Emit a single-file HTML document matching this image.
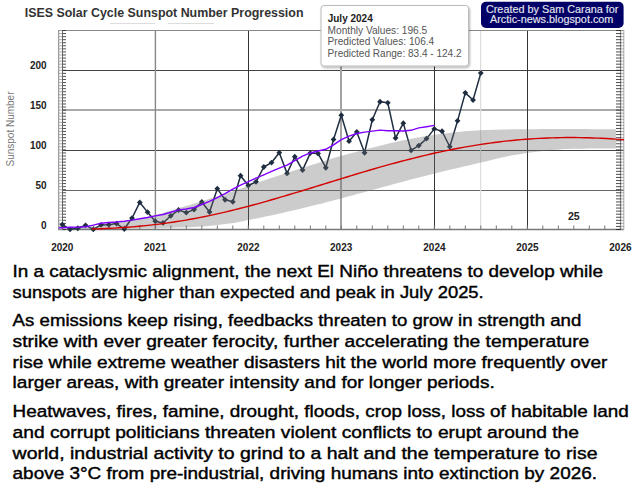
<!DOCTYPE html>
<html><head><meta charset="utf-8"><style>
html,body{margin:0;padding:0;background:#fff;width:640px;height:490px;overflow:hidden}
svg{display:block}
text{font-family:"Liberation Sans",sans-serif}
.body text{font-size:17.4px;fill:#000;stroke:#000;stroke-width:0.42px}
.ax{font-size:10px;font-weight:bold;fill:#222}
</style></head><body>
<svg width="640" height="490" viewBox="0 0 640 490">
<rect width="640" height="490" fill="#fff"/>
<!-- title -->
<text x="24.7" y="17.2" font-size="12.6" font-weight="bold" fill="#333" textLength="278.8" lengthAdjust="spacingAndGlyphs">ISES Solar Cycle Sunspot Number Progression</text>
<line x1="110" y1="23.5" x2="155" y2="23.5" stroke="#ddd" stroke-width="1"/>
<line x1="168" y1="23.5" x2="214" y2="23.5" stroke="#ddd" stroke-width="1"/>
<!-- y axis title -->
<text transform="translate(14.2,129) rotate(-90)" text-anchor="middle" font-size="10.5" fill="#777" textLength="75" lengthAdjust="spacingAndGlyphs">Sunspot Number</text>
<line x1="62" y1="70.5" x2="624" y2="70.5" stroke="#444" stroke-width="1"/>
<line x1="62" y1="110.0" x2="624" y2="110.0" stroke="#aaa" stroke-width="2"/>
<line x1="62" y1="150.5" x2="624" y2="150.5" stroke="#444" stroke-width="1"/>
<line x1="62" y1="190.5" x2="624" y2="190.5" stroke="#666" stroke-width="1"/>
<line x1="155.4" y1="30" x2="155.4" y2="230" stroke="#888" stroke-width="1.4"/>
<line x1="248.5" y1="30" x2="248.5" y2="230" stroke="#333" stroke-width="1"/>
<line x1="341.0" y1="30" x2="341.0" y2="230" stroke="#a4a4a4" stroke-width="2"/>
<line x1="434.5" y1="30" x2="434.5" y2="230" stroke="#333" stroke-width="1"/>
<line x1="527.5" y1="30" x2="527.5" y2="230" stroke="#333" stroke-width="1"/>
<!-- crosshair -->
<line x1="480.6" y1="30" x2="480.6" y2="229" stroke="#ddd" stroke-width="1.2"/>
<!-- axes frame -->
<line x1="58" y1="30.5" x2="624" y2="30.5" stroke="#888" stroke-width="1"/>
<line x1="58" y1="229.5" x2="624" y2="229.5" stroke="#777" stroke-width="1.3"/>
<line x1="58.7" y1="30" x2="58.7" y2="230" stroke="#888" stroke-width="1"/>
<line x1="62.5" y1="30" x2="62.5" y2="230" stroke="#666" stroke-width="1"/>
<line x1="620.7" y1="30" x2="620.7" y2="230" stroke="#777" stroke-width="1"/>
<line x1="623.8" y1="30" x2="623.8" y2="230" stroke="#aaa" stroke-width="1"/>
<path d="M62.5,30.50 H66 M616,30.50 H621 M62.5,33.56 H66 M616,33.56 H621 M62.5,36.62 H66 M616,36.62 H621 M62.5,39.68 H66 M616,39.68 H621 M62.5,42.75 H66 M616,42.75 H621 M62.5,45.81 H66 M616,45.81 H621 M62.5,48.87 H66 M616,48.87 H621 M62.5,51.93 H66 M616,51.93 H621 M62.5,54.99 H66 M616,54.99 H621 M62.5,58.05 H66 M616,58.05 H621 M62.5,61.12 H66 M616,61.12 H621 M62.5,64.18 H66 M616,64.18 H621 M62.5,67.24 H66 M616,67.24 H621 M62.5,70.30 H66 M616,70.30 H621 M62.5,73.36 H66 M616,73.36 H621 M62.5,76.42 H66 M616,76.42 H621 M62.5,79.48 H66 M616,79.48 H621 M62.5,82.55 H66 M616,82.55 H621 M62.5,85.61 H66 M616,85.61 H621 M62.5,88.67 H66 M616,88.67 H621 M62.5,91.73 H66 M616,91.73 H621 M62.5,94.79 H66 M616,94.79 H621 M62.5,97.85 H66 M616,97.85 H621 M62.5,100.92 H66 M616,100.92 H621 M62.5,103.98 H66 M616,103.98 H621 M62.5,107.04 H66 M616,107.04 H621 M62.5,110.10 H66 M616,110.10 H621 M62.5,113.16 H66 M616,113.16 H621 M62.5,116.22 H66 M616,116.22 H621 M62.5,119.28 H66 M616,119.28 H621 M62.5,122.35 H66 M616,122.35 H621 M62.5,125.41 H66 M616,125.41 H621 M62.5,128.47 H66 M616,128.47 H621 M62.5,131.53 H66 M616,131.53 H621 M62.5,134.59 H66 M616,134.59 H621 M62.5,137.65 H66 M616,137.65 H621 M62.5,140.72 H66 M616,140.72 H621 M62.5,143.78 H66 M616,143.78 H621 M62.5,146.84 H66 M616,146.84 H621 M62.5,149.90 H66 M616,149.90 H621 M62.5,152.96 H66 M616,152.96 H621 M62.5,156.02 H66 M616,156.02 H621 M62.5,159.08 H66 M616,159.08 H621 M62.5,162.15 H66 M616,162.15 H621 M62.5,165.21 H66 M616,165.21 H621 M62.5,168.27 H66 M616,168.27 H621 M62.5,171.33 H66 M616,171.33 H621 M62.5,174.39 H66 M616,174.39 H621 M62.5,177.45 H66 M616,177.45 H621 M62.5,180.52 H66 M616,180.52 H621 M62.5,183.58 H66 M616,183.58 H621 M62.5,186.64 H66 M616,186.64 H621 M62.5,189.70 H66 M616,189.70 H621 M62.5,192.76 H66 M616,192.76 H621 M62.5,195.82 H66 M616,195.82 H621 M62.5,198.88 H66 M616,198.88 H621 M62.5,201.95 H66 M616,201.95 H621 M62.5,205.01 H66 M616,205.01 H621 M62.5,208.07 H66 M616,208.07 H621 M62.5,211.13 H66 M616,211.13 H621 M62.5,214.19 H66 M616,214.19 H621 M62.5,217.25 H66 M616,217.25 H621 M62.5,220.32 H66 M616,220.32 H621 M62.5,223.38 H66 M616,223.38 H621 M62.5,226.44 H66 M616,226.44 H621 M62.5,229.50 H66 M616,229.50 H621" stroke="#222" stroke-width="0.8" fill="none"/>
<path d="M58.5,30.50 H62.5 M621,30.50 H624 M58.5,33.56 H62.5 M621,33.56 H624 M58.5,36.62 H62.5 M621,36.62 H624 M58.5,39.68 H62.5 M621,39.68 H624 M58.5,42.75 H62.5 M621,42.75 H624 M58.5,45.81 H62.5 M621,45.81 H624 M58.5,48.87 H62.5 M621,48.87 H624 M58.5,51.93 H62.5 M621,51.93 H624 M58.5,54.99 H62.5 M621,54.99 H624 M58.5,58.05 H62.5 M621,58.05 H624 M58.5,61.12 H62.5 M621,61.12 H624 M58.5,64.18 H62.5 M621,64.18 H624 M58.5,67.24 H62.5 M621,67.24 H624 M58.5,70.30 H62.5 M621,70.30 H624 M58.5,73.36 H62.5 M621,73.36 H624 M58.5,76.42 H62.5 M621,76.42 H624 M58.5,79.48 H62.5 M621,79.48 H624 M58.5,82.55 H62.5 M621,82.55 H624 M58.5,85.61 H62.5 M621,85.61 H624 M58.5,88.67 H62.5 M621,88.67 H624 M58.5,91.73 H62.5 M621,91.73 H624 M58.5,94.79 H62.5 M621,94.79 H624 M58.5,97.85 H62.5 M621,97.85 H624 M58.5,100.92 H62.5 M621,100.92 H624 M58.5,103.98 H62.5 M621,103.98 H624 M58.5,107.04 H62.5 M621,107.04 H624 M58.5,110.10 H62.5 M621,110.10 H624 M58.5,113.16 H62.5 M621,113.16 H624 M58.5,116.22 H62.5 M621,116.22 H624 M58.5,119.28 H62.5 M621,119.28 H624 M58.5,122.35 H62.5 M621,122.35 H624 M58.5,125.41 H62.5 M621,125.41 H624 M58.5,128.47 H62.5 M621,128.47 H624 M58.5,131.53 H62.5 M621,131.53 H624 M58.5,134.59 H62.5 M621,134.59 H624 M58.5,137.65 H62.5 M621,137.65 H624 M58.5,140.72 H62.5 M621,140.72 H624 M58.5,143.78 H62.5 M621,143.78 H624 M58.5,146.84 H62.5 M621,146.84 H624 M58.5,149.90 H62.5 M621,149.90 H624 M58.5,152.96 H62.5 M621,152.96 H624 M58.5,156.02 H62.5 M621,156.02 H624 M58.5,159.08 H62.5 M621,159.08 H624 M58.5,162.15 H62.5 M621,162.15 H624 M58.5,165.21 H62.5 M621,165.21 H624 M58.5,168.27 H62.5 M621,168.27 H624 M58.5,171.33 H62.5 M621,171.33 H624 M58.5,174.39 H62.5 M621,174.39 H624 M58.5,177.45 H62.5 M621,177.45 H624 M58.5,180.52 H62.5 M621,180.52 H624 M58.5,183.58 H62.5 M621,183.58 H624 M58.5,186.64 H62.5 M621,186.64 H624 M58.5,189.70 H62.5 M621,189.70 H624 M58.5,192.76 H62.5 M621,192.76 H624 M58.5,195.82 H62.5 M621,195.82 H624 M58.5,198.88 H62.5 M621,198.88 H624 M58.5,201.95 H62.5 M621,201.95 H624 M58.5,205.01 H62.5 M621,205.01 H624 M58.5,208.07 H62.5 M621,208.07 H624 M58.5,211.13 H62.5 M621,211.13 H624 M58.5,214.19 H62.5 M621,214.19 H624 M58.5,217.25 H62.5 M621,217.25 H624 M58.5,220.32 H62.5 M621,220.32 H624 M58.5,223.38 H62.5 M621,223.38 H624 M58.5,226.44 H62.5 M621,226.44 H624 M58.5,229.50 H62.5 M621,229.50 H624" stroke="#999" stroke-width="0.8" fill="none"/>
<path d="M62.30,229 V225.5 M77.80,229 V225.5 M93.30,229 V225.5 M108.80,229 V225.5 M124.30,229 V225.5 M139.80,229 V225.5 M155.30,229 V225.5 M170.80,229 V225.5 M186.30,229 V225.5 M201.80,229 V225.5 M217.30,229 V225.5 M232.80,229 V225.5 M248.30,229 V225.5 M263.80,229 V225.5 M279.30,229 V225.5 M294.80,229 V225.5 M310.30,229 V225.5 M325.80,229 V225.5 M341.30,229 V225.5 M356.80,229 V225.5 M372.30,229 V225.5 M387.80,229 V225.5 M403.30,229 V225.5 M418.80,229 V225.5 M434.30,229 V225.5 M449.80,229 V225.5 M465.30,229 V225.5 M480.80,229 V225.5 M496.30,229 V225.5 M511.80,229 V225.5 M527.30,229 V225.5 M542.80,229 V225.5 M558.30,229 V225.5 M573.80,229 V225.5 M589.30,229 V225.5 M604.80,229 V225.5 M620.30,229 V225.5" stroke="#777" stroke-width="1" fill="none"/>
<!-- monthly -->
<path d="M62.30,224.56 L70.05,229.34 L77.80,228.31 L85.55,225.36 L93.30,229.34 L101.05,224.88 L108.80,224.64 L116.55,223.53 L124.30,229.02 L132.05,218.04 L139.80,202.44 L147.55,212.15 L155.30,221.22 L163.05,222.97 L170.80,215.81 L178.55,210.00 L186.30,212.62 L194.05,209.60 L201.80,201.96 L209.55,211.99 L217.30,188.67 L225.05,199.73 L232.80,201.80 L240.55,175.77 L248.30,185.48 L256.05,181.82 L263.80,167.01 L271.55,162.56 L279.30,152.69 L287.05,173.38 L294.80,156.75 L302.55,170.12 L310.30,153.08 L318.05,153.48 L325.80,167.73 L333.55,139.47 L341.30,115.19 L349.05,141.22 L356.80,131.91 L364.55,152.77 L372.30,119.73 L380.05,101.74 L387.80,102.86 L395.55,138.12 L403.30,123.15 L411.05,150.38 L418.80,145.60 L426.55,138.60 L434.30,128.89 L442.05,131.27 L449.80,146.72 L457.55,120.85 L465.30,92.83 L473.05,100.07 L480.80,73.09" stroke="#1e2d40" stroke-width="1.5" fill="none" stroke-linejoin="round"/>
<path d="M62.30,221.66 L65.20,224.56 L62.30,227.46 L59.40,224.56 Z M70.05,226.44 L72.95,229.34 L70.05,232.24 L67.15,229.34 Z M77.80,225.41 L80.70,228.31 L77.80,231.21 L74.90,228.31 Z M85.55,222.46 L88.45,225.36 L85.55,228.26 L82.65,225.36 Z M93.30,226.44 L96.20,229.34 L93.30,232.24 L90.40,229.34 Z M101.05,221.98 L103.95,224.88 L101.05,227.78 L98.15,224.88 Z M108.80,221.74 L111.70,224.64 L108.80,227.54 L105.90,224.64 Z M116.55,220.63 L119.45,223.53 L116.55,226.43 L113.65,223.53 Z M124.30,226.12 L127.20,229.02 L124.30,231.92 L121.40,229.02 Z M132.05,215.14 L134.95,218.04 L132.05,220.94 L129.15,218.04 Z M139.80,199.54 L142.70,202.44 L139.80,205.34 L136.90,202.44 Z M147.55,209.25 L150.45,212.15 L147.55,215.05 L144.65,212.15 Z M155.30,218.32 L158.20,221.22 L155.30,224.12 L152.40,221.22 Z M163.05,220.07 L165.95,222.97 L163.05,225.87 L160.15,222.97 Z M170.80,212.91 L173.70,215.81 L170.80,218.71 L167.90,215.81 Z M178.55,207.10 L181.45,210.00 L178.55,212.90 L175.65,210.00 Z M186.30,209.72 L189.20,212.62 L186.30,215.52 L183.40,212.62 Z M194.05,206.70 L196.95,209.60 L194.05,212.50 L191.15,209.60 Z M201.80,199.06 L204.70,201.96 L201.80,204.86 L198.90,201.96 Z M209.55,209.09 L212.45,211.99 L209.55,214.89 L206.65,211.99 Z M217.30,185.77 L220.20,188.67 L217.30,191.57 L214.40,188.67 Z M225.05,196.83 L227.95,199.73 L225.05,202.63 L222.15,199.73 Z M232.80,198.90 L235.70,201.80 L232.80,204.70 L229.90,201.80 Z M240.55,172.87 L243.45,175.77 L240.55,178.67 L237.65,175.77 Z M248.30,182.58 L251.20,185.48 L248.30,188.38 L245.40,185.48 Z M256.05,178.92 L258.95,181.82 L256.05,184.72 L253.15,181.82 Z M263.80,164.11 L266.70,167.01 L263.80,169.91 L260.90,167.01 Z M271.55,159.66 L274.45,162.56 L271.55,165.46 L268.65,162.56 Z M279.30,149.79 L282.20,152.69 L279.30,155.59 L276.40,152.69 Z M287.05,170.48 L289.95,173.38 L287.05,176.28 L284.15,173.38 Z M294.80,153.85 L297.70,156.75 L294.80,159.65 L291.90,156.75 Z M302.55,167.22 L305.45,170.12 L302.55,173.02 L299.65,170.12 Z M310.30,150.18 L313.20,153.08 L310.30,155.98 L307.40,153.08 Z M318.05,150.58 L320.95,153.48 L318.05,156.38 L315.15,153.48 Z M325.80,164.83 L328.70,167.73 L325.80,170.63 L322.90,167.73 Z M333.55,136.57 L336.45,139.47 L333.55,142.37 L330.65,139.47 Z M341.30,112.29 L344.20,115.19 L341.30,118.09 L338.40,115.19 Z M349.05,138.32 L351.95,141.22 L349.05,144.12 L346.15,141.22 Z M356.80,129.01 L359.70,131.91 L356.80,134.81 L353.90,131.91 Z M364.55,149.87 L367.45,152.77 L364.55,155.67 L361.65,152.77 Z M372.30,116.83 L375.20,119.73 L372.30,122.63 L369.40,119.73 Z M380.05,98.84 L382.95,101.74 L380.05,104.64 L377.15,101.74 Z M387.80,99.96 L390.70,102.86 L387.80,105.76 L384.90,102.86 Z M395.55,135.22 L398.45,138.12 L395.55,141.02 L392.65,138.12 Z M403.30,120.25 L406.20,123.15 L403.30,126.05 L400.40,123.15 Z M411.05,147.48 L413.95,150.38 L411.05,153.28 L408.15,150.38 Z M418.80,142.70 L421.70,145.60 L418.80,148.50 L415.90,145.60 Z M426.55,135.70 L429.45,138.60 L426.55,141.50 L423.65,138.60 Z M434.30,125.99 L437.20,128.89 L434.30,131.79 L431.40,128.89 Z M442.05,128.37 L444.95,131.27 L442.05,134.17 L439.15,131.27 Z M449.80,143.82 L452.70,146.72 L449.80,149.62 L446.90,146.72 Z M457.55,117.95 L460.45,120.85 L457.55,123.75 L454.65,120.85 Z M465.30,89.93 L468.20,92.83 L465.30,95.73 L462.40,92.83 Z M473.05,97.17 L475.95,100.07 L473.05,102.97 L470.15,100.07 Z M480.80,70.19 L483.70,73.09 L480.80,75.99 L477.90,73.09 Z" fill="#1e2d40"/>
<!-- band -->
<path d="M62.30,229.50 L66.28,229.25 L70.27,228.96 L74.25,228.63 L78.23,228.27 L82.22,227.87 L86.20,227.45 L90.18,227.00 L94.17,226.53 L98.15,226.03 L102.13,225.52 L106.12,224.95 L110.10,224.34 L114.08,223.67 L118.07,222.96 L122.05,222.22 L126.04,221.44 L130.02,220.62 L134.00,219.78 L137.99,218.92 L141.97,218.03 L145.95,217.13 L149.94,216.21 L153.92,215.26 L157.90,214.25 L161.89,213.19 L165.87,212.08 L169.85,210.93 L173.84,209.75 L177.82,208.55 L181.80,207.34 L185.79,206.12 L189.77,204.91 L193.75,203.70 L197.74,202.49 L201.72,201.27 L205.70,200.04 L209.69,198.79 L213.67,197.53 L217.65,196.26 L221.64,194.96 L225.62,193.66 L229.61,192.33 L233.59,190.98 L237.57,189.58 L241.56,188.16 L245.54,186.73 L249.52,185.31 L253.51,183.91 L257.49,182.55 L261.47,181.21 L265.46,179.88 L269.44,178.56 L273.42,177.25 L277.41,175.95 L281.39,174.65 L285.37,173.35 L289.36,172.07 L293.34,170.78 L297.32,169.51 L301.31,168.24 L305.29,166.98 L309.27,165.73 L313.26,164.48 L317.24,163.22 L321.22,161.97 L325.21,160.73 L329.19,159.50 L333.17,158.30 L337.16,157.12 L341.14,155.98 L345.13,154.86 L349.11,153.76 L353.09,152.69 L357.08,151.63 L361.06,150.59 L365.04,149.56 L369.03,148.55 L373.01,147.53 L376.99,146.52 L380.98,145.50 L384.96,144.51 L388.94,143.53 L392.93,142.58 L396.91,141.68 L400.89,140.82 L404.88,140.00 L408.86,139.19 L412.84,138.41 L416.83,137.64 L420.81,136.92 L424.79,136.23 L428.78,135.58 L432.76,134.98 L436.74,134.42 L440.73,133.90 L444.71,133.41 L448.69,132.95 L452.68,132.52 L456.66,132.12 L460.65,131.74 L464.63,131.37 L468.61,131.01 L472.60,130.69 L476.58,130.41 L480.56,130.20 L484.55,130.04 L488.53,129.90 L492.51,129.77 L496.50,129.66 L500.48,129.56 L504.46,129.48 L508.45,129.42 L512.43,129.37 L516.41,129.32 L520.40,129.28 L524.38,129.24 L528.36,129.20 L532.35,129.17 L536.33,129.14 L540.31,129.12 L544.30,129.11 L548.28,129.10 L552.26,129.10 L556.25,129.10 L560.23,129.10 L564.22,129.10 L568.20,129.10 L572.18,129.10 L576.17,129.11 L580.15,129.11 L584.13,129.11 L588.12,129.12 L592.10,129.13 L596.08,129.13 L600.07,129.14 L604.05,129.15 L608.03,129.17 L612.02,129.18 L616.00,129.20 L616.00,148.40 L612.02,148.40 L608.03,148.42 L604.05,148.44 L600.07,148.47 L596.08,148.50 L592.10,148.54 L588.12,148.59 L584.13,148.65 L580.15,148.71 L576.17,148.78 L572.18,148.86 L568.20,148.95 L564.22,149.12 L560.23,149.38 L556.25,149.71 L552.26,150.09 L548.28,150.51 L544.30,150.94 L540.31,151.37 L536.33,151.81 L532.35,152.30 L528.36,152.84 L524.38,153.42 L520.40,154.03 L516.41,154.69 L512.43,155.37 L508.45,156.09 L504.46,156.89 L500.48,157.77 L496.50,158.71 L492.51,159.69 L488.53,160.67 L484.55,161.66 L480.56,162.61 L476.58,163.54 L472.60,164.47 L468.61,165.39 L464.63,166.32 L460.65,167.25 L456.66,168.18 L452.68,169.11 L448.69,170.05 L444.71,171.00 L440.73,171.96 L436.74,172.93 L432.76,173.91 L428.78,174.91 L424.79,175.92 L420.81,176.94 L416.83,177.98 L412.84,179.02 L408.86,180.08 L404.88,181.14 L400.89,182.21 L396.91,183.29 L392.93,184.36 L388.94,185.44 L384.96,186.53 L380.98,187.61 L376.99,188.68 L373.01,189.76 L369.03,190.83 L365.04,191.91 L361.06,193.00 L357.08,194.10 L353.09,195.19 L349.11,196.29 L345.13,197.37 L341.14,198.45 L337.16,199.52 L333.17,200.57 L329.19,201.61 L325.21,202.62 L321.22,203.63 L317.24,204.61 L313.26,205.59 L309.27,206.56 L305.29,207.53 L301.31,208.49 L297.32,209.46 L293.34,210.42 L289.36,211.36 L285.37,212.29 L281.39,213.19 L277.41,214.07 L273.42,214.93 L269.44,215.77 L265.46,216.59 L261.47,217.41 L257.49,218.21 L253.51,219.01 L249.52,219.79 L245.54,220.61 L241.56,221.45 L237.57,222.25 L233.59,222.97 L229.61,223.55 L225.62,224.06 L221.64,224.54 L217.65,225.00 L213.67,225.43 L209.69,225.83 L205.70,226.19 L201.72,226.52 L197.74,226.80 L193.75,227.03 L189.77,227.21 L185.79,227.36 L181.80,227.49 L177.82,227.60 L173.84,227.71 L169.85,227.80 L165.87,227.89 L161.89,227.97 L157.90,228.05 L153.92,228.13 L149.94,228.20 L145.95,228.28 L141.97,228.35 L137.99,228.43 L134.00,228.50 L130.02,228.57 L126.04,228.64 L122.05,228.71 L118.07,228.78 L114.08,228.85 L110.10,228.91 L106.12,228.98 L102.13,229.04 L98.15,229.09 L94.17,229.15 L90.18,229.20 L86.20,229.25 L82.22,229.30 L78.23,229.35 L74.25,229.39 L70.27,229.43 L66.28,229.47 L62.30,229.50 Z" fill="rgb(110,110,110)" fill-opacity="0.35"/>
<!-- red prediction -->
<path d="M92.00,229.00 L96.47,228.87 L100.94,228.71 L105.41,228.52 L109.88,228.32 L114.35,228.08 L118.82,227.82 L123.29,227.53 L127.76,227.21 L132.24,226.86 L136.71,226.48 L141.18,226.07 L145.65,225.63 L150.12,225.15 L154.59,224.64 L159.06,224.09 L163.53,223.51 L168.00,222.89 L172.47,222.24 L176.94,221.56 L181.41,220.84 L185.88,220.09 L190.35,219.30 L194.82,218.48 L199.29,217.62 L203.76,216.74 L208.24,215.82 L212.71,214.87 L217.18,213.88 L221.65,212.87 L226.12,211.83 L230.59,210.76 L235.06,209.67 L239.53,208.54 L244.00,207.39 L248.47,206.22 L252.94,205.03 L257.41,203.81 L261.88,202.57 L266.35,201.32 L270.82,200.04 L275.29,198.75 L279.76,197.44 L284.24,196.12 L288.71,194.79 L293.18,193.45 L297.65,192.10 L302.12,190.73 L306.59,189.37 L311.06,187.99 L315.53,186.62 L320.00,185.24 L324.47,183.86 L328.94,182.47 L333.41,181.10 L337.88,179.72 L342.35,178.35 L346.82,176.99 L351.29,175.63 L355.76,174.28 L360.24,172.94 L364.71,171.61 L369.18,170.29 L373.65,168.99 L378.12,167.70 L382.59,166.43 L387.06,165.18 L391.53,163.94 L396.00,162.72 L400.47,161.53 L404.94,160.35 L409.41,159.20 L413.88,158.07 L418.35,156.96 L422.82,155.88 L427.29,154.82 L431.76,153.79 L436.24,152.79 L440.71,151.81 L445.18,150.87 L449.65,149.95 L454.12,149.06 L458.59,148.21 L463.06,147.38 L467.53,146.59 L472.00,145.82 L476.47,145.09 L480.94,144.40 L485.41,143.73 L489.88,143.10 L494.35,142.50 L498.82,141.94 L503.29,141.41 L507.76,140.91 L512.24,140.45 L516.71,140.02 L521.18,139.63 L525.65,139.27 L530.12,138.94 L534.59,138.65 L539.06,138.40 L543.53,138.18 L548.00,137.99 L552.47,137.83 L556.94,137.71 L561.41,137.63 L565.88,137.57 L570.35,137.55 L574.82,137.56 L579.29,137.61 L583.76,137.68 L588.24,137.79 L592.71,137.93 L597.18,138.10 L601.65,138.30 L606.12,138.53 L610.59,138.79 L615.06,139.08 L619.53,139.39 L624.00,139.74" stroke="#d40000" stroke-width="1.4" fill="none"/>
<!-- smoothed -->
<path d="M58.60,227.89 L62.30,227.74 L70.05,227.33 L77.80,227.12 L85.55,226.67 L93.30,225.09 L101.05,223.31 L108.80,222.50 L116.55,222.09 L124.30,221.30 L132.05,220.14 L139.80,218.81 L147.55,217.47 L155.30,215.89 L163.05,214.47 L170.80,212.30 L178.55,209.86 L186.30,209.07 L194.05,207.53 L201.80,204.52 L209.55,201.32 L217.30,197.57 L225.05,193.56 L232.80,189.09 L240.55,185.08 L248.30,181.69 L256.05,178.06 L263.80,174.83 L271.55,171.42 L279.30,168.08 L287.05,165.14 L294.80,160.70 L302.55,156.08 L310.30,152.93 L318.05,151.06 L325.80,149.28 L333.55,144.92 L341.30,139.69 L349.05,136.11 L356.80,133.53 L364.55,132.15 L372.30,131.10 L380.05,130.14 L387.80,130.68 L395.55,130.83 L403.30,131.03 L411.05,130.32 L418.80,127.87 L426.55,126.68 L434.30,125.37" stroke="#7f00ff" stroke-width="1.45" fill="none" stroke-linejoin="round"/>
<!-- axis labels -->
<g class="ax" text-anchor="end">
<text x="46.6" y="68.5">200</text>
<text x="46.6" y="108.5">150</text>
<text x="46.6" y="148.5">100</text>
<text x="46.6" y="188.5">50</text>
<text x="46.6" y="228.5">0</text>
</g>
<g class="ax" text-anchor="middle">
<text x="62.3" y="250.8">2020</text>
<text x="155.2" y="250.8">2021</text>
<text x="248.4" y="250.8">2022</text>
<text x="341.2" y="250.8">2023</text>
<text x="434.4" y="250.8">2024</text>
<text x="527.4" y="250.8">2025</text>
<text x="620.4" y="250.8">2026</text>
<text x="573.8" y="220.3" font-size="10.6">25</text>
</g>
<!-- tooltip -->
<defs><filter id="sh" x="-10%" y="-10%" width="130%" height="140%"><feDropShadow dx="1" dy="1.5" stdDeviation="1.3" flood-color="#000" flood-opacity="0.3"/></filter></defs>
<rect x="321" y="5.5" width="147.5" height="60.5" rx="3" fill="#fff" stroke="#bbb" stroke-width="1" filter="url(#sh)"/>
<text x="327.7" y="22.0" font-size="10" font-weight="bold" fill="#222">July 2024</text>
<g font-size="10.1" fill="#555">
<text x="327.6" y="34.0" textLength="99.6" lengthAdjust="spacingAndGlyphs">Monthly Values: 196.5</text>
<text x="327.6" y="45.2" textLength="106.6" lengthAdjust="spacingAndGlyphs">Predicted Values: 106.4</text>
<text x="327.6" y="56.7" textLength="134.0" lengthAdjust="spacingAndGlyphs">Predicted Range: 83.4 - 124.2</text>
</g>
<!-- badge -->
<rect x="481" y="1.7" width="142.6" height="26.2" rx="5" fill="#000066"/>
<g font-size="11.6" fill="#e6e6ee" stroke="#e6e6ee" stroke-width="0.15" text-anchor="middle">
<text x="552.2" y="12.9" textLength="132.5" lengthAdjust="spacingAndGlyphs">Created by Sam Carana for</text>
<text x="551.7" y="23.4" textLength="123.3" lengthAdjust="spacingAndGlyphs">Arctic-news.blogspot.com</text>
</g>
<!-- body text -->
<g class="body">
<text x="12.6" y="277.0" textLength="590.4" lengthAdjust="spacingAndGlyphs">In a cataclysmic alignment, the next El Niño threatens to develop while</text>
<text x="12.6" y="298.0" textLength="471.1" lengthAdjust="spacingAndGlyphs">sunspots are higher than expected and peak in July 2025.</text>
<text x="12.6" y="326.2" textLength="568.7" lengthAdjust="spacingAndGlyphs">As emissions keep rising, feedbacks threaten to grow in strength and</text>
<text x="12.6" y="346.8" textLength="576.7" lengthAdjust="spacingAndGlyphs">strike with ever greater ferocity, further accelerating the temperature</text>
<text x="12.6" y="367.5" textLength="594.7" lengthAdjust="spacingAndGlyphs">rise while extreme weather disasters hit the world more frequently over</text>
<text x="12.6" y="388.3" textLength="482.1" lengthAdjust="spacingAndGlyphs">larger areas, with greater intensity and for longer periods.</text>
<text x="12.6" y="417.2" textLength="616.1" lengthAdjust="spacingAndGlyphs">Heatwaves, fires, famine, drought, floods, crop loss, loss of habitable land</text>
<text x="12.6" y="438.1" textLength="566.4" lengthAdjust="spacingAndGlyphs">and corrupt politicians threaten violent conflicts to erupt around the</text>
<text x="12.6" y="458.9" textLength="584.9" lengthAdjust="spacingAndGlyphs">world, industrial activity to grind to a halt and the temperature to rise</text>
<text x="12.6" y="479.4" textLength="584.4" lengthAdjust="spacingAndGlyphs">above 3°C from pre-industrial, driving humans into extinction by 2026.</text>
</g>
</svg>
</body></html>
